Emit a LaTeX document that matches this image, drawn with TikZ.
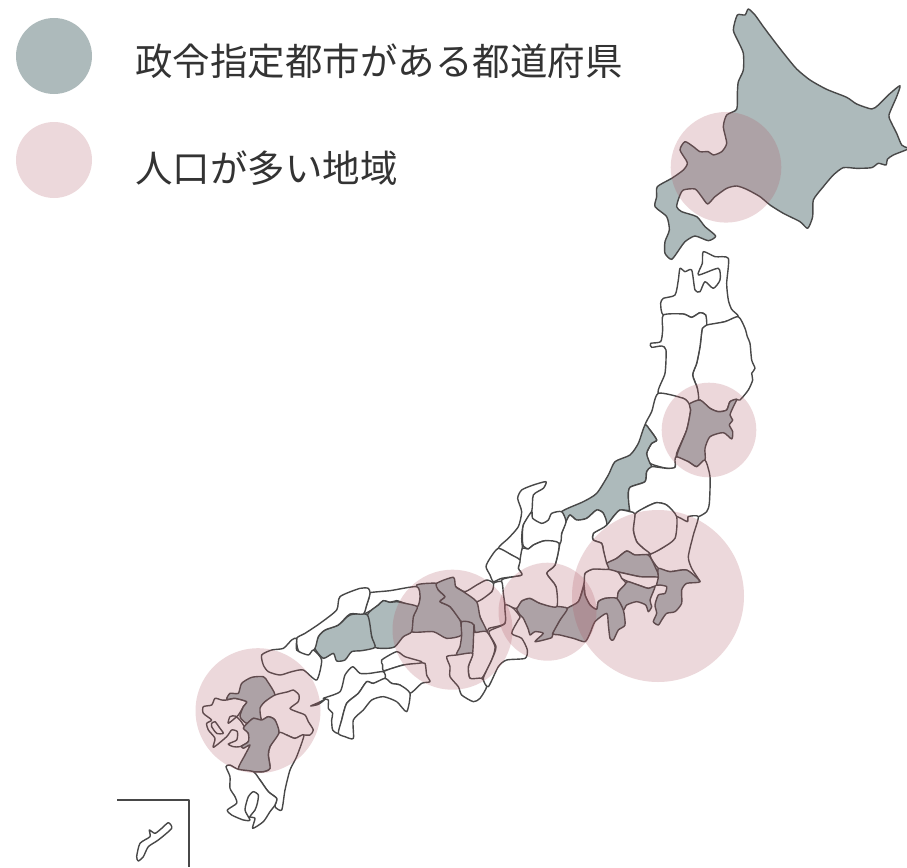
\documentclass[tikz,border=0pt]{standalone}
\usepackage{fontspec}
\newfontfamily\cjk{Noto Sans CJK JP}
\definecolor{landgray}{HTML}{ADBABB}
\definecolor{pinkbase}{HTML}{B05864}
\definecolor{coast}{HTML}{484848}
\definecolor{legendtext}{HTML}{333333}
\tikzset{
  wh/.style={fill=white,draw=coast,line width=1.4pt,line join=round},
  gr/.style={fill=landgray,draw=coast,line width=1.4pt,line join=round},
  ln/.style={draw=coast,line width=1.4pt,line join=round},
  pinkc/.style={fill=pinkbase,fill opacity=.235,draw=none},
  legtext/.style={anchor=west,inner sep=0pt,text=legendtext,font=\cjk\fontsize{37.5}{37.5}\selectfont},
  zA/.style={x=.33333pt,y=-.33333pt,shift={(630pt,0pt)}},
  zB/.style={x=.33333pt,y=-.33333pt,shift={(480pt,-470pt)}},
  zC/.style={x=.33333pt,y=-.33333pt,shift={(540pt,-240pt)}},
  zD/.style={x=.33333pt,y=-.33333pt,shift={(290pt,-560pt)}},
  zE/.style={x=.33333pt,y=-.33333pt,shift={(100pt,-640pt)}},
}
\newcommand\Pw[1]{\draw[wh] plot[smooth cycle,tension=.4] coordinates {#1};}
\newcommand\Pg[1]{\draw[gr] plot[smooth cycle,tension=.4] coordinates {#1};}
\newcommand\Pl[1]{\draw[ln] plot[smooth,tension=.4] coordinates {#1};}
\begin{document}
\begin{tikzpicture}
\useasboundingbox (0pt,0pt) rectangle (907pt,-867pt);
% Hokkaido
\begin{scope}[zA]
\Pg{(355,27) (375,45) (400,80) (430,120) (465,165) (500,207) (540,240) (590,268) (650,292) (680,312) (725,327) (745,315) (775,285) (810,257) (800,290) (777,345) (785,370) (800,400) (815,435) (831,443) (835,447) (790,465) (772,478) (768,495) (745,490) (725,503) (680,505) (640,503) (610,525) (580,560) (550,600) (548,650) (533,685) (510,665) (460,640) (420,615) (390,590) (350,568) (320,558) (290,565) (255,590) (233,612) (215,590) (195,567) (160,570) (148,590) (140,620) (155,635) (200,650) (225,680) (257,708) (235,722) (195,708) (165,725) (150,745) (125,778) (105,760) (105,725) (118,690) (110,650) (75,620) (80,590) (82,560) (125,535) (160,510) (172,488) (150,450) (165,425) (190,440) (210,455) (235,455) (250,465) (275,455) (290,430) (280,380) (290,345) (320,328) (322,280) (325,245) (340,210) (340,160) (325,125) (310,90) (322,45) (345,45)}
\end{scope}
% Tohoku
\begin{scope}[zC]
\Pw{(490,35) (525,50) (565,55) (560,130) (565,180) (575,208) (595,230) (555,245) (500,255) (497,225) (480,218) (455,232) (430,222) (370,225) (362,190) (370,175) (405,165) (415,120) (420,85) (435,95) (455,90) (465,150) (480,155) (495,125) (520,145) (540,120) (535,85) (475,105) (487,70)}
\Pw{(595,230) (615,265) (622,290) (630,310) (635,360) (645,385) (635,400) (638,420) (625,450) (600,480) (590,478) (570,485) (560,510) (535,515) (510,505) (480,480) (470,480) (472,445) (458,405) (470,370) (480,320) (487,265) (500,255) (555,245)}
\Pw{(370,225) (430,222) (455,232) (480,218) (497,225) (500,255) (487,265) (480,320) (470,370) (458,405) (472,445) (475,480) (448,492) (430,475) (355,460) (375,400) (378,330) (365,318) (335,322) (332,310) (362,305) (368,270)}
\Pw{(355,460) (430,475) (448,492) (452,510) (440,570) (410,640) (405,682) (380,685) (330,670) (320,640) (335,610) (350,600) (330,570) (315,555) (335,515)}
\Pg{(448,492) (480,480) (510,505) (535,515) (560,510) (570,485) (590,478) (580,500) (570,525) (578,540) (568,555) (578,575) (575,597) (550,578) (510,590) (495,625) (495,660) (470,680) (445,665) (410,650) (440,570) (452,510)}
\end{scope}
% Chubu and Kanto
\begin{scope}[zB]
\Pg{(495,-135) (510,-120) (530,-90) (515,-80) (500,-50) (510,-20) (515,-10) (500,5) (495,35) (450,52) (445,80) (450,120) (420,120) (400,140) (380,165) (370,130) (350,120) (320,145) (290,150) (270,135) (258,155) (245,125) (310,95) (350,70) (385,15) (405,-25) (450,-45) (475,-80)}
\Pw{(450,125) (445,80) (450,52) (495,35) (500,5) (515,-10) (560,-5) (585,-8) (585,-30) (590,-40) (625,-25) (650,-10) (675,-30) (690,20) (688,100) (680,125) (655,140) (625,140) (622,155) (590,140) (560,105) (530,98) (500,110) (465,132)}
\Pw{(655,140) (640,195) (625,260) (635,295) (660,335) (620,300) (570,305) (535,295) (510,255) (545,235) (580,205) (585,140) (622,155) (625,140)}
\Pw{(465,132) (500,110) (530,98) (560,105) (590,140) (585,205) (545,235) (510,252) (490,235) (470,215) (460,180)}
\Pw{(340,210) (340,190) (380,165) (400,140) (420,120) (450,125) (465,132) (460,180) (470,215) (490,235) (510,252) (465,255) (440,243) (410,265) (380,280) (370,240) (365,220)}
\Pg{(380,280) (410,265) (440,243) (465,255) (505,255) (525,290) (535,322) (480,320) (420,307) (385,298)}
\Pw{(415,307) (480,320) (535,322) (530,345) (505,355) (480,347) (445,335) (425,325)}
\Pg{(437,340) (445,335) (480,347) (505,355) (525,350) (510,390) (515,410) (505,425) (497,405) (470,395) (440,405) (430,420) (410,385) (415,365)}
\Pg{(535,295) (570,305) (620,300) (660,335) (620,340) (605,360) (605,400) (585,425) (560,430) (545,450) (535,465) (520,455) (530,430) (525,405) (535,375) (555,370) (560,350) (540,345) (530,345) (535,322)}
\Pw{(315,310) (340,297) (385,298) (415,307) (425,325) (437,340) (415,365) (410,385) (375,385) (355,395) (350,418) (330,405) (315,375) (312,340)}
\Pw{(258,155) (270,135) (290,150) (320,145) (350,120) (370,130) (380,165) (340,190) (340,210) (365,220) (370,240) (380,280) (385,298) (340,297) (315,310) (312,340) (295,395) (262,415) (230,410) (228,350) (200,310) (225,285) (240,220) (245,190)}
\Pg{(262,415) (295,395) (312,350) (315,375) (330,405) (350,418) (355,395) (375,385) (410,385) (430,420) (435,465) (415,480) (400,510) (390,505) (385,465) (380,430) (345,455) (330,490) (315,515) (280,505) (240,495) (218,490) (240,450)}
\Pg{(110,415) (125,393) (150,385) (180,400) (220,408) (262,415) (240,450) (218,490) (215,503) (165,515) (190,490) (165,485) (150,495) (145,478) (130,445) (120,435)}
\Pw{(198,35) (160,45) (125,60) (113,85) (125,125) (115,170) (85,205) (55,235) (95,255) (120,270) (127,235) (125,205) (130,165) (155,125) (160,75) (190,55)}
\Pw{(155,125) (158,145) (185,160) (205,150) (215,130) (245,125) (258,155) (245,190) (240,220) (195,212) (160,225) (145,237) (130,228) (127,205) (130,165)}
\Pw{(127,235) (145,237) (160,225) (195,212) (237,220) (225,285) (200,310) (228,350) (230,410) (180,400) (150,385) (125,393) (110,415) (90,410) (75,405) (65,370) (65,330) (100,320) (125,315) (115,295) (120,270)}
\Pw{(55,235) (95,255) (120,270) (115,295) (125,315) (65,325) (40,335) (30,315) (18,290) (30,265)}
\end{scope}
% Kinki, Chugoku, Shikoku
\begin{scope}[zD]
\Pw{(610,70) (635,65) (640,100) (645,140) (645,190) (597,205) (590,215) (570,170) (560,125) (605,95)}
\Pw{(497,80) (525,95) (560,75) (590,60) (610,70) (605,95) (560,125) (520,95)}
\Pg{(380,75) (440,70) (445,90) (465,110) (450,125) (480,140) (510,180) (515,225) (470,235) (430,215) (365,215) (370,170) (382,140) (390,110)}
\Pg{(440,70) (490,52) (497,80) (520,95) (560,125) (570,170) (590,215) (555,217) (520,190) (510,180) (480,140) (450,125) (465,110) (445,90)}
\Pg{(515,185) (552,195) (548,280) (500,285) (510,260) (515,225)}
\Pw{(555,217) (590,215) (615,260) (605,300) (575,355) (540,355) (535,320) (548,280) (552,195)}
\Pw{(470,290) (500,285) (548,280) (535,320) (540,355) (575,355) (590,380) (570,415) (550,425) (515,405) (505,380) (480,350) (480,320)}
\Pw{(645,135) (670,145) (690,170) (685,180) (665,220) (695,235) (712,270) (705,295) (650,300) (625,320) (595,380) (580,355) (605,300) (618,260) (597,215) (645,190)}
\Pw{(240,98) (300,92) (380,80) (390,110) (382,140) (345,130) (320,122) (300,127) (280,122) (265,135) (245,150) (220,162) (230,135) (238,110)}
\Pg{(320,125) (345,130) (382,140) (370,170) (365,215) (340,230) (315,260) (290,265) (255,262) (245,230) (232,165) (265,135) (280,122) (300,127)}
\Pg{(232,165) (245,230) (255,262) (215,272) (185,275) (165,300) (140,303) (130,280) (100,295) (75,265) (85,230) (105,210) (145,195) (180,165)}
\Pw{(20,235) (45,220) (90,190) (140,150) (150,110) (210,85) (235,85) (240,98) (238,110) (230,135) (220,162) (180,162) (145,195) (105,210) (85,230) (75,265) (50,290) (25,272)}
\Pw{(275,300) (320,275) (345,290) (395,305) (385,312) (340,315) (282,332) (278,315)}
\Pw{(385,310) (405,310) (410,345) (420,365) (395,370) (360,400) (330,375) (305,370) (285,355) (280,335) (340,315)}
\Pw{(188,320) (210,340) (240,340) (280,335) (285,355) (250,370) (230,365) (205,400) (170,430) (155,480) (147,520) (128,510) (125,480) (128,460) (115,445) (115,420) (100,415) (150,395) (165,345)}
\Pw{(145,520) (155,480) (170,430) (205,400) (230,365) (250,370) (285,355) (305,370) (330,375) (360,400) (350,455) (320,425) (280,410) (245,420) (220,450) (190,480) (190,535) (165,530)}
\Pw{(62,438) (85,428) (105,418) (85,433)}
\end{scope}
% Kyushu, Okinawa
\begin{scope}[zE]
\Pw{(485,45) (515,30) (550,25) (575,0) (590,-5) (590,30) (625,45) (640,30) (665,60) (650,120) (610,90) (575,95) (540,105) (505,95) (490,75)}
\Pw{(310,200) (335,195) (345,175) (365,180) (380,180) (405,175) (440,185) (430,200) (415,225) (385,250) (390,230) (405,228) (420,240) (430,255) (445,280) (445,305) (420,320) (400,320) (385,312) (410,300) (412,275) (395,270) (380,290) (340,322) (345,295) (325,270) (320,250) (335,240) (310,220)}
\Pl{(335,250) (345,245) (360,265) (370,280) (350,280) (335,260) (335,250)}
\Pg{(380,178) (390,160) (415,160) (425,130) (455,112) (490,110) (503,125) (525,165) (495,185) (483,205) (485,240) (460,235) (440,250) (420,230) (430,200) (440,185) (405,175)}
\Pw{(525,165) (565,155) (580,150) (597,165) (595,185) (570,205) (590,215) (615,225) (625,245) (640,270) (630,285) (610,285) (585,295) (560,285) (537,278) (525,240) (505,230) (485,240) (480,205) (495,185)}
\Pw{(537,278) (560,285) (585,295) (612,285) (590,350) (570,390) (555,450) (545,510) (525,500) (530,475) (505,455) (480,420) (460,395) (490,395) (510,385) (505,345) (510,320)}
\Pg{(440,252) (460,235) (485,240) (505,230) (525,240) (537,278) (510,320) (505,345) (510,385) (490,395) (460,395) (415,388) (435,345) (450,315) (430,325) (425,318) (445,305) (445,280) (430,265)}
\Pw{(378,380) (390,375) (415,388) (460,395) (480,420) (505,455) (530,475) (525,495) (510,515) (490,545) (458,565) (465,535) (450,530) (465,510) (472,490) (475,465) (460,455) (445,470) (435,510) (450,540) (430,540) (395,525) (382,510) (410,490) (405,470) (390,445) (390,410)}
\Pw{(110,650) (120,610) (150,590) (148,570) (165,580) (185,565) (205,548) (215,565) (175,600) (145,620) (130,650) (115,663)}
\draw[ln] (52,480) -- (267,480) -- (267,680);
\end{scope}
% Population circles
\fill[pinkc] (726pt,-167.3pt) circle (55.3pt);
\fill[pinkc] (709pt,-430pt) circle (47.3pt);
\fill[pinkc] (658pt,-596pt) circle (86pt);
\fill[pinkc] (547.5pt,-611.7pt) circle (49pt);
\fill[pinkc] (452.5pt,-629.7pt) circle (60pt);
\fill[pinkc] (258pt,-710.7pt) circle (62.5pt);
% Legend
\fill[landgray] (54pt,-56pt) circle (38pt);
\fill[pinkc] (54pt,-160pt) circle (38pt);
\node[legtext] (legA) at (135pt,-61pt) {政令指定都市がある都道府県};
\node[legtext] (legB) at (135pt,-168pt) {人口が多い地域};
\end{tikzpicture}
\end{document}
